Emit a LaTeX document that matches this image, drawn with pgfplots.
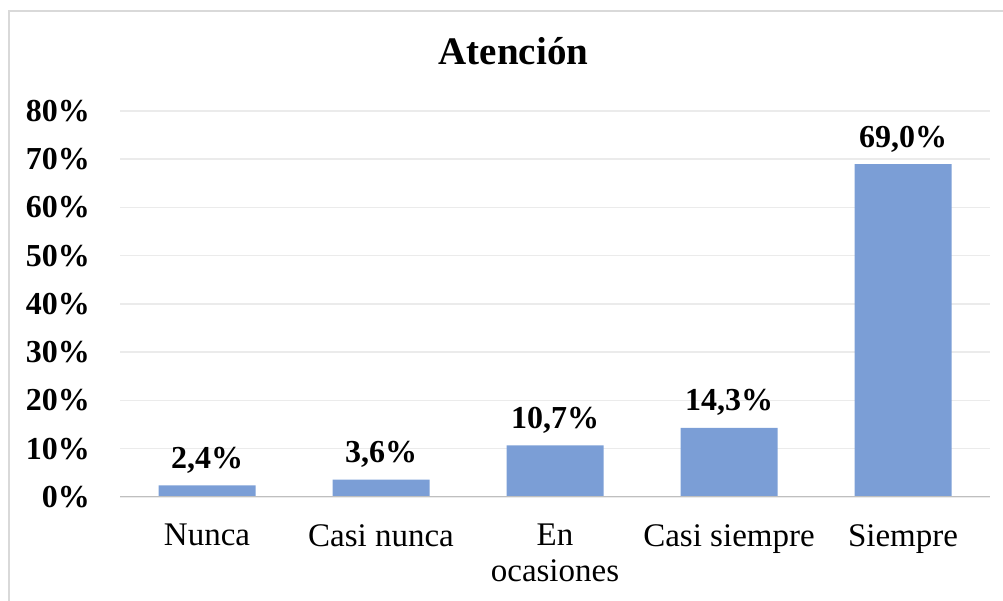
\documentclass[border=0pt]{standalone}
\usepackage{pgfplots}
\pgfplotsset{compat=1.18}
\usepackage{fontspec}
\setmainfont{Liberation Serif}
\definecolor{barblue}{RGB}{123,158,214}
\definecolor{gridc}{RGB}{235,235,235}
\definecolor{axc}{RGB}{191,191,191}
\definecolor{brd}{RGB}{217,217,217}
\begin{document}
\begin{tikzpicture}[x=1pt,y=1pt]
\path[use as bounding box] (0,0) rectangle (1003,601);
\draw[brd, line width=1.5pt] (9,590) rectangle (1030,-30);
\node[anchor=base, inner sep=0pt, font=\fontsize{39}{42}\selectfont\bfseries] at (513.5,536) {Atención};
\begin{axis}[
  at={(120pt,104pt)}, anchor=south west,
  scale only axis, width=870pt, height=386pt,
  xmin=-0.5, xmax=4.5, ymin=0, ymax=80,
  axis line style={draw=none},
  major tick length=0pt,
  ytick={0,10,...,80},
  yticklabels={0\%,10\%,20\%,30\%,40\%,50\%,60\%,70\%,80\%},
  yticklabel style={anchor=east, inner sep=0pt, xshift=-30pt, font=\fontsize{32}{34}\selectfont\bfseries},
  ymajorgrids, grid style={draw=gridc, line width=1.5pt},
  xtick={0,1,2,3,4},
  xticklabels={Nunca, Casi nunca, {En\\ocasiones}, Casi siempre, Siempre},
  xticklabel style={anchor=north, align=center, inner sep=0pt, yshift=-27pt, font=\fontsize{33}{36}\selectfont},
  ybar, bar width=97pt,
  nodes near coords={\pgfmathprintnumber[fixed,fixed zerofill,precision=1,use comma,assume math mode=true]{\pgfplotspointmeta}\%},
  nodes near coords style={anchor=base, inner sep=0pt, yshift=17pt, font=\fontsize{32}{34}\selectfont\bfseries},
]
\addplot[fill=barblue, draw=none, bar shift=0pt] coordinates {(0,2.4) (1,3.6) (2,10.7) (3,14.3) (4,69.0)};
\draw[axc, line width=2.5pt] (axis cs:-0.5,0) -- (axis cs:4.5,0);
\end{axis}
\end{tikzpicture}
\end{document}
